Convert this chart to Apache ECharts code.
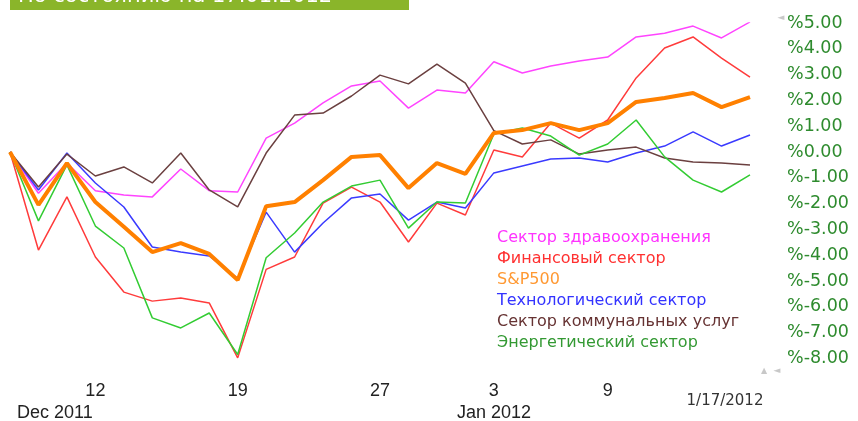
<!DOCTYPE html>
<html>
<head>
<meta charset="utf-8">
<script src="https://cdn.jsdelivr.net/npm/echarts@6/dist/echarts.min.js"></script>
<style>
    html, body { margin: 0; padding: 0; background: #fff; }
    #chart { width: 858px; height: 421px; }
</style>
</head>
<body>
<div id="chart"></div>
<script>
// trading days 7 Dec 2011 .. 17 Jan 2012
const dates = ['12/7', '12/8', '12/9', '12/12', '12/13', '12/14', '12/15', '12/16', '12/19', '12/20',
    '12/21', '12/22', '12/23', '12/27', '12/28', '12/29', '12/30', '1/3', '1/4', '1/5',
    '1/6', '1/9', '1/10', '1/11', '1/12', '1/13', '1/17']
const tickLabels = ['', '', '', '12', '', '', '', '', '19', '', '', '', '', '27', '', '', '', '3', '', '', '', '9', '', '', '', '', '']

const health = [0, -1.6, -0.43, -1.5, -1.67, -1.74, -0.66, -1.5, -1.55, 0.54, 1.12, 1.9, 2.56, 2.75, 1.7, 2.4, 2.29, 3.5, 3.06, 3.33, 3.53, 3.68, 4.46, 4.6, 4.88, 4.42, 5.04]
const finance = [0, -3.8, -1.74, -4.07, -5.43, -5.78, -5.66, -5.85, -7.98, -4.55, -4.07, -1.98, -1.36, -1.94, -3.49, -1.98, -2.44, 0.08, -0.19, 1.12, 0.54, 1.24, 2.87, 4.03, 4.46, 3.64, 2.9]
const sp500 = [0, -2.05, -0.43, -1.94, -2.9, -3.88, -3.53, -3.95, -4.96, -2.1, -1.94, -1.09, -0.19, -0.12, -1.4, -0.43, -0.85, 0.74, 0.85, 1.12, 0.85, 1.12, 1.94, 2.09, 2.29, 1.74, 2.13]
const tech = [0, -1.47, -0.04, -1.2, -2.13, -3.68, -3.88, -4.03, -4.9, -2.33, -3.88, -2.75, -1.78, -1.63, -2.64, -1.94, -2.17, -0.81, -0.54, -0.27, -0.23, -0.39, -0.04, 0.23, 0.78, 0.23, 0.66]
const utility = [0, -1.36, -0.08, -0.93, -0.58, -1.2, -0.04, -1.47, -2.13, -0.04, 1.43, 1.51, 2.17, 2.98, 2.64, 3.41, 2.67, 0.83, 0.31, 0.47, -0.08, 0.08, 0.19, -0.23, -0.39, -0.43, -0.5]
const energy = [0, -2.67, -0.5, -2.87, -3.72, -6.43, -6.82, -6.24, -7.85, -4.1, -3.14, -1.94, -1.32, -1.09, -2.95, -1.94, -1.98, 0.7, 0.93, 0.62, -0.12, 0.31, 1.24, -0.19, -1.09, -1.55, -0.89]

const names = ['Сектор здравоохранения', 'Финансовый сектор', 'S&P500', 'Технологический сектор', 'Сектор коммунальных услуг', 'Энергетический сектор']
const lineColors = ['#ff44ff', '#ff3b3b', '#ff8000', '#3a3aff', '#6b4040', '#33cc33']
const textColors = ['#ff33ff', '#ff3030', '#ff9933', '#3333ff', '#663333', '#339933']

const chart = echarts.init(document.getElementById('chart'))

function line(name, data, color, width) {
    return {
        name: name,
        type: 'line',
        data: data,
        symbol: 'none',
        lineStyle: { color: color, width: width },
        itemStyle: { color: color },
        z: width > 2 ? 5 : 2
    }
}

const option = {
    animation: false,
    backgroundColor: '#fff',
    grid: { left: 10, width: 740, top: 23, height: 335.4 },
    legend: {
        orient: 'vertical',
        left: 487,
        top: 225,
        icon: 'rect',
        itemWidth: 0,
        itemHeight: 15,
        itemGap: 5,
        selectedMode: false,
        textStyle: { fontFamily: 'DejaVu Sans', fontSize: 16 },
        data: names.map((n, i) => ({ name: n, textStyle: { color: textColors[i] } }))
    },
    xAxis: {
        type: 'category',
        data: dates,
        boundaryGap: false,
        axisLine: { show: false },
        axisTick: { show: false },
        splitLine: { show: false },
        axisLabel: {
            interval: 0,
            margin: 24,
            color: '#222',
            fontFamily: 'Liberation Sans',
            fontSize: 18,
            formatter: (v, i) => tickLabels[i]
        }
    },
    yAxis: {
        type: 'value',
        position: 'right',
        min: -8,
        max: 5,
        interval: 1,
        axisLine: { show: false },
        axisTick: { show: false },
        splitLine: { show: false },
        axisLabel: {
            margin: 37,
            align: 'left',
            color: '#2e8b2e',
            fontFamily: 'DejaVu Sans',
            fontSize: 17.5,
            formatter: v => '%' + v.toFixed(2)
        }
    },
    graphic: [
        { type: 'rect', shape: { x: 10, y: 0, width: 399, height: 10 }, style: { fill: '#8ab52a' } },
        { type: 'text', z: 10, style: { x: 18, y: 7, text: 'По состоянию на 17.01.2012', fill: '#fff', font: '21px DejaVu Sans', textVerticalAlign: 'bottom' } },
        { type: 'text', style: { x: 17, y: 413, text: 'Dec 2011', fill: '#222', font: '18px Liberation Sans', textVerticalAlign: 'middle' } },
        { type: 'text', style: { x: 494, y: 413, text: 'Jan 2012', fill: '#222', font: '18px Liberation Sans', textAlign: 'center', textVerticalAlign: 'middle' } },
        { type: 'text', style: { x: 725, y: 401, text: '1/17/2012', fill: '#333', font: '15px DejaVu Sans', textAlign: 'center', textVerticalAlign: 'middle' } },
        { type: 'text', style: { x: 781, y: 18, text: '◄', fill: '#c8c8c8', font: '9px DejaVu Sans', textAlign: 'center', textVerticalAlign: 'middle' } },
        { type: 'text', style: { x: 764, y: 371, text: '▲', fill: '#c8c8c8', font: '8px DejaVu Sans', textAlign: 'center', textVerticalAlign: 'middle' } },
        { type: 'text', style: { x: 777, y: 371, text: '◄', fill: '#c8c8c8', font: '9px DejaVu Sans', textAlign: 'center', textVerticalAlign: 'middle' } }
    ],
    series: [
        line(names[0], health, lineColors[0], 1.5),
        line(names[1], finance, lineColors[1], 1.5),
        line(names[3], tech, lineColors[3], 1.5),
        line(names[4], utility, lineColors[4], 1.5),
        line(names[5], energy, lineColors[5], 1.5),
        line(names[2], sp500, lineColors[2], 4)
    ]
}
chart.setOption(option)
</script>
</body>
</html>
